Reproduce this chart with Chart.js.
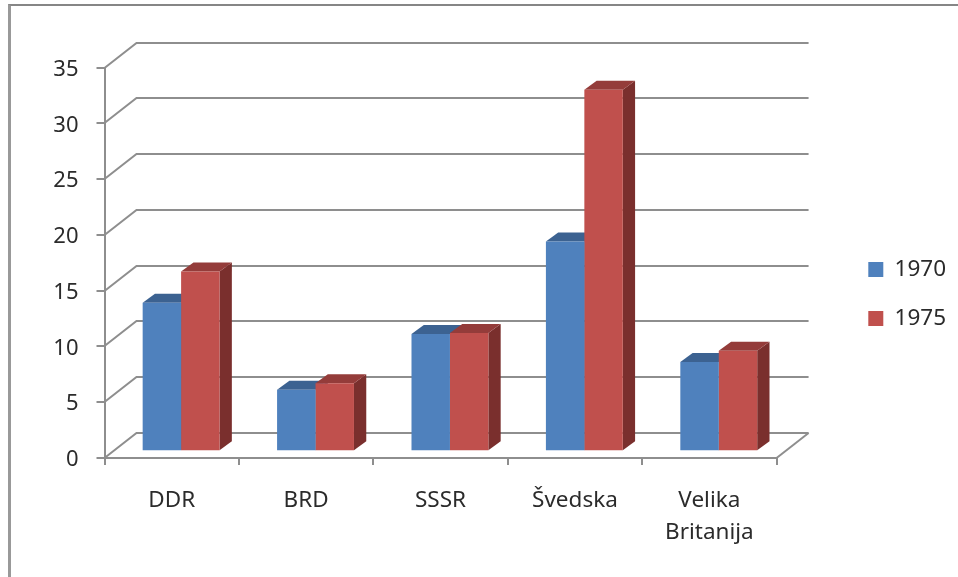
<!DOCTYPE html>
<html>
<head>
<meta charset="utf-8">
<style>
html, body { margin: 0; padding: 0; background: #fff; overflow: hidden; }
#wrap { position: relative; width: 958px; height: 577px; overflow: hidden; }
#frame { position: absolute; left: 8px; top: 4px; right: 0; bottom: -4px; border-left: 3px solid #999; border-top: 2px solid #868686; }
canvas { position: absolute; left: 0; top: 0; }
</style>
<script src="https://cdn.jsdelivr.net/npm/chart.js@4"></script>
</head>
<body>
<div id="wrap">
    <div id="frame"></div>
    <canvas id="barChart" width="958" height="577"></canvas>
</div>
<script>
const categories = ['DDR', 'BRD', 'SSSR', 'Švedska', ['Velika', 'Britanija']];
const values1970 = [13.3, 5.5, 10.5, 18.8, 8.0];
const values1975 = [16.1, 6.1, 10.6, 32.4, 9.0];
const yTicks = [0, 5, 10, 15, 20, 25, 30, 35];

const LINE = '#8e8e8e';
const TEXT = '#2b2b2b';
const FONT = 'Noto Sans';
// back wall offset and bar depth, in pixels
const WALL = { dx: 32, dy: 25 };
const BAR_SHIFT = { dx: 9.4, dy: 6.8 };
const BAR_DEPTH = { dx: 12.3, dy: 9 };
const SHADES = [
    { top: '#3c6291', side: '#375a85' },
    { top: '#943c3a', side: '#7a2f2d' }
];

function polygon(ctx, points, color) {
    ctx.fillStyle = color;
    ctx.beginPath();
    points.forEach((p, i) => i ? ctx.lineTo(p[0], p[1]) : ctx.moveTo(p[0], p[1]));
    ctx.closePath();
    ctx.fill();
}

const fake3d = {
    id: 'fake3d',
    afterLayout(chart) {
        // legend sits apart from the plot, its box also acts as clip area
        chart.legend.left = 841.6;
        chart.legend.right = 958;
        chart.legend.bottom = 520.5;
    },
    beforeDatasetsDraw(chart) {
        const { ctx, chartArea, scales } = chart;
        ctx.save();
        ctx.strokeStyle = LINE;
        ctx.lineWidth = 2;
        yTicks.forEach(t => {
            const y = Math.round(scales.y.getPixelForValue(t));
            ctx.beginPath();
            ctx.moveTo(chartArea.left, y);
            ctx.lineTo(chartArea.left + WALL.dx, y - WALL.dy);
            ctx.lineTo(chartArea.right + WALL.dx, y - WALL.dy);
            ctx.stroke();
        });
        ctx.beginPath();
        ctx.moveTo(chartArea.right, chartArea.bottom);
        ctx.lineTo(chartArea.right + WALL.dx, chartArea.bottom - WALL.dy);
        ctx.stroke();

        chart.data.datasets.forEach((ds, d) => {
            chart.getDatasetMeta(d).data.forEach(bar => {
                const l = bar.x - bar.width / 2 + BAR_SHIFT.dx;
                const r = bar.x + bar.width / 2 + BAR_SHIFT.dx;
                const t = bar.y - BAR_SHIFT.dy;
                const b = bar.base - BAR_SHIFT.dy;
                polygon(ctx, [[r, t], [r + BAR_DEPTH.dx, t - BAR_DEPTH.dy], [r + BAR_DEPTH.dx, b - BAR_DEPTH.dy], [r, b]], SHADES[d].side);
                polygon(ctx, [[l, t], [r, t], [r + BAR_DEPTH.dx, t - BAR_DEPTH.dy], [l + BAR_DEPTH.dx, t - BAR_DEPTH.dy]], SHADES[d].top);
            });
        });
        ctx.restore();
        // front faces are drawn by Chart.js, moved into the floor
        ctx.save();
        ctx.translate(BAR_SHIFT.dx, -BAR_SHIFT.dy);
    },
    afterDatasetsDraw(chart) {
        chart.ctx.restore();
    }
};

new Chart(document.getElementById('barChart'), {
    type: 'bar',
    plugins: [fake3d],
    data: {
        labels: categories,
        datasets: [
            { label: '1970', data: values1970, backgroundColor: '#4f81bd', categoryPercentage: 0.572, barPercentage: 1, clip: false },
            { label: '1975', data: values1975, backgroundColor: '#c0504d', categoryPercentage: 0.572, barPercentage: 1, clip: false }
        ]
    },
    options: {
        responsive: false,
        animation: false,
        layout: { padding: { left: 0, top: 67.5, bottom: 0, right: 67 } },
        plugins: {
            tooltip: { enabled: false },
            legend: {
                position: 'right',
                labels: {
                    boxWidth: 15,
                    boxHeight: 15,
                    padding: 26.7,
                    color: TEXT,
                    font: { family: FONT, size: 22.5 }
                }
            }
        },
        scales: {
            x: {
                afterFit(scale) { scale.height = 119; },
                border: { color: LINE, width: 2 },
                grid: { color: LINE, lineWidth: 2, drawOnChartArea: false, tickLength: 7 },
                ticks: { color: TEXT, autoSkip: false, maxRotation: 0, padding: 20, font: { family: FONT, size: 22.5, lineHeight: 1.42 } }
            },
            y: {
                min: 0,
                max: 35,
                afterFit(scale) { scale.width = 104.5; },
                afterBuildTicks(scale) { scale.ticks = yTicks.map(v => ({ value: v })); },
                border: { color: LINE, width: 2 },
                grid: { color: LINE, lineWidth: 2, drawOnChartArea: false, tickLength: 8 },
                ticks: { color: TEXT, padding: 18, labelOffset: 2, font: { family: FONT, size: 22 } }
            }
        }
    }
});
</script>
</body>
</html>
